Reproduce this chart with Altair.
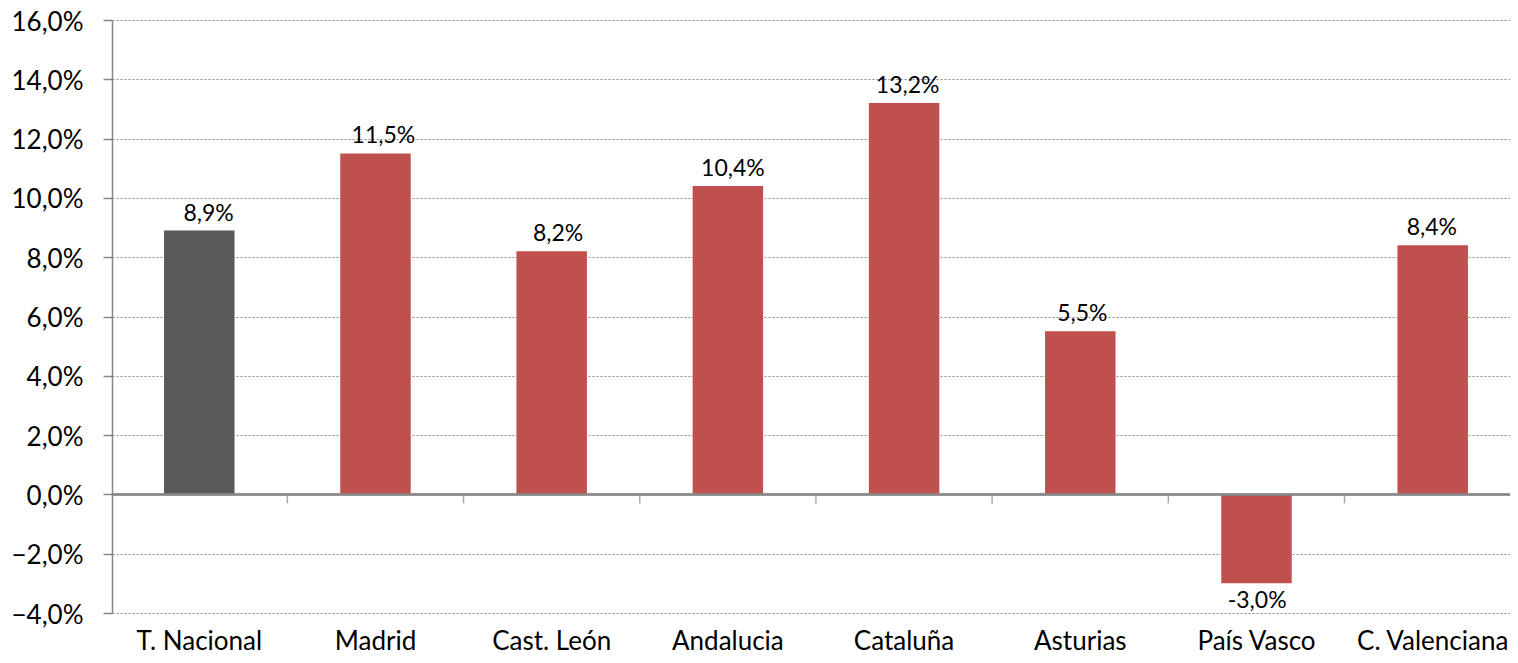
import altair as alt
import pandas as pd

categories = ["T. Nacional", "Madrid", "Cast. León", "Andalucia", "Cataluña",
              "Asturias", "País Vasco", "C. Valenciana"]
values = [8.9, 11.5, 8.2, 10.4, 13.2, 5.5, -3.0, 8.4]
colors = ["#595959", "#C0504D", "#C0504D", "#C0504D", "#C0504D",
          "#C0504D", "#C0504D", "#C0504D"]
y_ticks = [-4, -2, 0, 2, 4, 6, 8, 10, 12, 14, 16]
boundaries = [1, 2, 3, 4, 5, 6, 7]

df = pd.DataFrame({"cat": categories, "val": values, "color": colors})
df["label"] = [f"{v:.1f}%".replace(".", ",") for v in values]
df["sign"] = ["pos" if v >= 0 else "neg" for v in values]
bdf = pd.DataFrame({"b": boundaries})

FONT = "Lato"
AX = "#868686"
N_SPAN = 7.934  # visible span of the plot, in category steps

xscale = alt.Scale(domain=categories, paddingInner=0.6, paddingOuter=0.267, align=0.553)
yscale = alt.Scale(domain=[-4, 16], nice=False)
bscale = alt.Scale(domain=[0.005, N_SPAN + 0.005], nice=False, zero=False)

base = alt.Chart(df)

bars = base.mark_bar().encode(
    x=alt.X("cat:N", scale=xscale, sort=categories,
            axis=alt.Axis(title=None, domain=False, ticks=False, labelAngle=0,
                          labelFontSize=26, labelFont=FONT, labelColor="#000",
                          labelPadding=15, labelBaseline="top")),
    y=alt.Y("val:Q", scale=yscale,
            axis=alt.Axis(title=None, values=y_ticks, domainColor=AX, domainWidth=1.5,
                          tickColor=AX, tickSize=9, tickWidth=1.5,
                          grid=True, gridColor="#8c8c8c", gridDash=[2, 2], gridWidth=1,
                          labelFontSize=26, labelFont=FONT, labelColor="#000",
                          labelPadding=20, labelOffset=2,
                          labelExpr="replace(format(datum.value/100, '.1%'), '.', ',')")),
    color=alt.Color("color:N", scale=None),
)

zero_line = alt.Chart(bdf).mark_rule(color=AX, strokeWidth=1.5).encode(
    x=alt.datum(0.005, scale=bscale, axis=None),
    x2=alt.datum(N_SPAN + 0.005),
    y=alt.datum(0, scale=yscale),
)

bound_ticks = alt.Chart(bdf).mark_tick(
    orient="vertical", size=9, yOffset=4.5, thickness=1.5, color=AX
).encode(
    x=alt.X("b:Q", scale=bscale, axis=None),
    y=alt.datum(0, scale=yscale),
)

pos_labels = base.transform_filter("datum.sign == 'pos'").mark_text(
    baseline="bottom", dy=-5, fontSize=23, font=FONT, color="#000"
).encode(x=alt.X("cat:N", scale=xscale, sort=categories, axis=None),
         y=alt.Y("val:Q", scale=yscale), text="label:N")

neg_labels = base.transform_filter("datum.sign == 'neg'").mark_text(
    baseline="top", dy=7, fontSize=23, font=FONT, color="#000"
).encode(x=alt.X("cat:N", scale=xscale, sort=categories, axis=None),
         y=alt.Y("val:Q", scale=yscale), text="label:N")

chart = alt.layer(bars, zero_line, bound_ticks, pos_labels, neg_labels).resolve_scale(
    x="independent"
).properties(
    width=1398, height=593,
    autosize=alt.AutoSizeParams(type="none"),
    padding={"left": 104, "top": 12, "right": 0, "bottom": 42},
).configure_view(stroke=None)

chart.save("out.html", embed_options={"renderer": "svg", "actions": False})
